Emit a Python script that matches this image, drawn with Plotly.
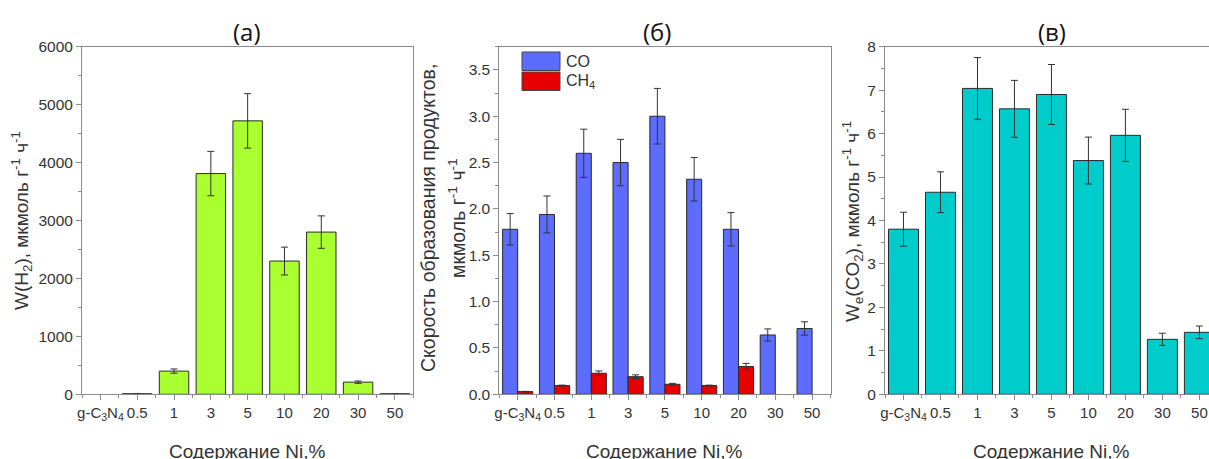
import plotly.graph_objects as go

# ---------------- data ----------------
categories = ["g-C<sub>3</sub>N<sub>4</sub>", "0.5", "1", "3", "5", "10", "20", "30", "50"]
h2 = [None, 10, 400, 3810, 4720, 2300, 2800, 210, 10]
h2_err = [0, 0, 37, 383, 470, 240, 280, 20, 0]
co = [1.78, 1.94, 2.60, 2.50, 3.00, 2.32, 1.78, 0.64, 0.71]
co_err = [0.17, 0.20, 0.26, 0.25, 0.30, 0.235, 0.18, 0.065, 0.072]
ch4 = [0.029, 0.094, 0.227, 0.19, 0.108, 0.094, 0.30, None, None]
ch4_err = [0.003, 0.005, 0.025, 0.02, 0.01, 0.005, 0.033, 0, 0]
co2 = [3.80, 4.65, 7.04, 6.57, 6.90, 5.38, 5.96, 1.265, 1.426]
co2_err = [0.39, 0.47, 0.71, 0.655, 0.69, 0.54, 0.60, 0.14, 0.145]
legend_names = ["CO", "CH<sub>4</sub>"]
panel_titles = ["(a)", "(б)", "(в)"]
x_title = "Содержание Ni,%"
y_titles = [
    "W(H<sub>2</sub>), мкмоль г<sup>-1</sup> ч<sup>-1</sup>",
    "Скорость образования продуктов,",
    "мкмоль г<sup>-1</sup> ч<sup>-1</sup>",
    "W<sub>e</sub>(CO<sub>2</sub>), мкмоль г<sup>-1</sup> ч<sup>-1</sup>",
]

# ---------------- styling ----------------
W, H = 1209, 459
FONT = "Liberation Sans, Arial, sans-serif"
AX = "#8a8a8a"
TXT = "#333333"
GREEN = "#a9ff2f"
BLUE = "#5b6cff"
RED = "#e80000"
CYAN = "#00cccc"
OUTLINE = "#2b2b2b"


def px(x):
    return x / W


def py(y):
    return 1 - y / H


xs = list(range(len(categories)))
err_style = dict(type="data", color="#333333", thickness=1, width=3.5)

fig = go.Figure()
fig.add_trace(go.Bar(x=xs, y=h2, error_y=dict(array=h2_err, **err_style), width=0.8,
                     marker=dict(color=GREEN, line=dict(color=OUTLINE, width=1)),
                     xaxis="x", yaxis="y", showlegend=False))
fig.add_trace(go.Bar(x=xs, y=co, error_y=dict(array=co_err, **err_style), width=0.41, offset=-0.41,
                     marker=dict(color=BLUE, line=dict(color=OUTLINE, width=1)),
                     xaxis="x2", yaxis="y2", showlegend=False, name="CO"))
fig.add_trace(go.Bar(x=xs, y=ch4, error_y=dict(array=ch4_err, **err_style), width=0.41, offset=0,
                     marker=dict(color=RED, line=dict(color=OUTLINE, width=1)),
                     xaxis="x2", yaxis="y2", showlegend=False, name="CH4"))
fig.add_trace(go.Bar(x=xs, y=co2, error_y=dict(array=co2_err, **err_style), width=0.81,
                     marker=dict(color=CYAN, line=dict(color=OUTLINE, width=1)),
                     xaxis="x3", yaxis="y3", showlegend=False))

ydom = [py(394.3), py(46.7)]


def xaxis(dom, rng, anchor):
    return dict(domain=dom, range=rng, anchor=anchor, tickmode="array", tickvals=xs,
                ticktext=categories, ticks="outside", ticklen=5, tickcolor=AX, tickangle=0,
                showline=True, linecolor=AX, linewidth=1, mirror=True, showgrid=False,
                zeroline=False, automargin=False,
                tickfont=dict(family=FONT, size=15, color=TXT),
                minor=dict(tickmode="linear", tick0=0.5, dtick=1, ticks="outside",
                           ticklen=3, tickcolor=AX, showgrid=False))


def yaxis(rng, dtick, minor, anchor, fmt=None, mirror=True):
    d = dict(domain=ydom, range=rng, anchor=anchor, dtick=dtick, tick0=0, ticks="outside",
             ticklen=5, tickcolor=AX, showline=True, linecolor=AX, linewidth=1,
             mirror=mirror, showgrid=False, zeroline=False, automargin=False,
             tickfont=dict(family=FONT, size=15.5, color=TXT),
             minor=dict(dtick=minor, tick0=0, ticks="outside", ticklen=3, tickcolor=AX,
                        showgrid=False))
    if fmt:
        d["tickformat"] = fmt
    return d


fig.update_layout(
    width=W, height=H, margin=dict(l=0, r=0, t=0, b=0, autoexpand=False),
    paper_bgcolor="white", plot_bgcolor="white",
    barmode="overlay",
    xaxis=xaxis([px(82), px(413.3)], [-0.5, 8.5], "y"),
    yaxis=yaxis([0, 6000], 1000, 500, "x"),
    xaxis2=xaxis([px(499.3), px(830.5)], [-0.5, 8.5], "y2"),
    yaxis2=yaxis([0, 3.75], 0.5, 0.25, "x2", fmt=".1f"),
    xaxis3=xaxis([px(885), 1.0], [-0.5, 8.26], "y3"),
    yaxis3=yaxis([0, 8], 1, 0.5, "x3", mirror=False),
    font=dict(family=FONT, color=TXT),
)

ann = []
for t, xc in zip(panel_titles, [247, 657, 1052]):
    ann.append(dict(text=t, x=px(xc), y=py(31), xref="paper", yref="paper", showarrow=False,
                    xanchor="center", yanchor="middle",
                    font=dict(family="Open Sans, sans-serif", size=24, color="#111")))
for xc in [247.5, 664, 1051]:
    ann.append(dict(text=x_title, x=px(xc), y=py(451), xref="paper", yref="paper",
                    showarrow=False, xanchor="center", yanchor="middle",
                    font=dict(family=FONT, size=19, color=TXT)))
for t, xc, yc, fs in zip(y_titles, [22, 428, 457, 852], [221, 218, 218, 222],
                         [19, 19.5, 19.5, 19]):
    ann.append(dict(text=t, x=px(xc), y=py(yc), xref="paper", yref="paper", showarrow=False,
                    xanchor="center", yanchor="middle", textangle=-90,
                    font=dict(family=FONT, size=fs, color=TXT)))

# legend for panel (б)
shapes = []
for i, (nm, col) in enumerate(zip(legend_names, [BLUE, RED])):
    y0, y1 = 52 + i * 20, 70.5 + i * 20
    shapes.append(dict(type="rect", xref="paper", yref="paper", x0=px(522), x1=px(560),
                       y0=py(y1), y1=py(y0), fillcolor=col,
                       line=dict(color="#444", width=1)))
    ann.append(dict(text=nm, x=px(564), y=py((y0 + y1) / 2), xref="paper", yref="paper",
                    showarrow=False, xanchor="left", yanchor="middle",
                    font=dict(family=FONT, size=16, color=TXT)))

fig.update_layout(annotations=ann, shapes=shapes)
fig.write_html("out.html", config={"displayModeBar": False},
               post_script="document.body.style.margin='0';document.body.style.overflow='hidden';")
